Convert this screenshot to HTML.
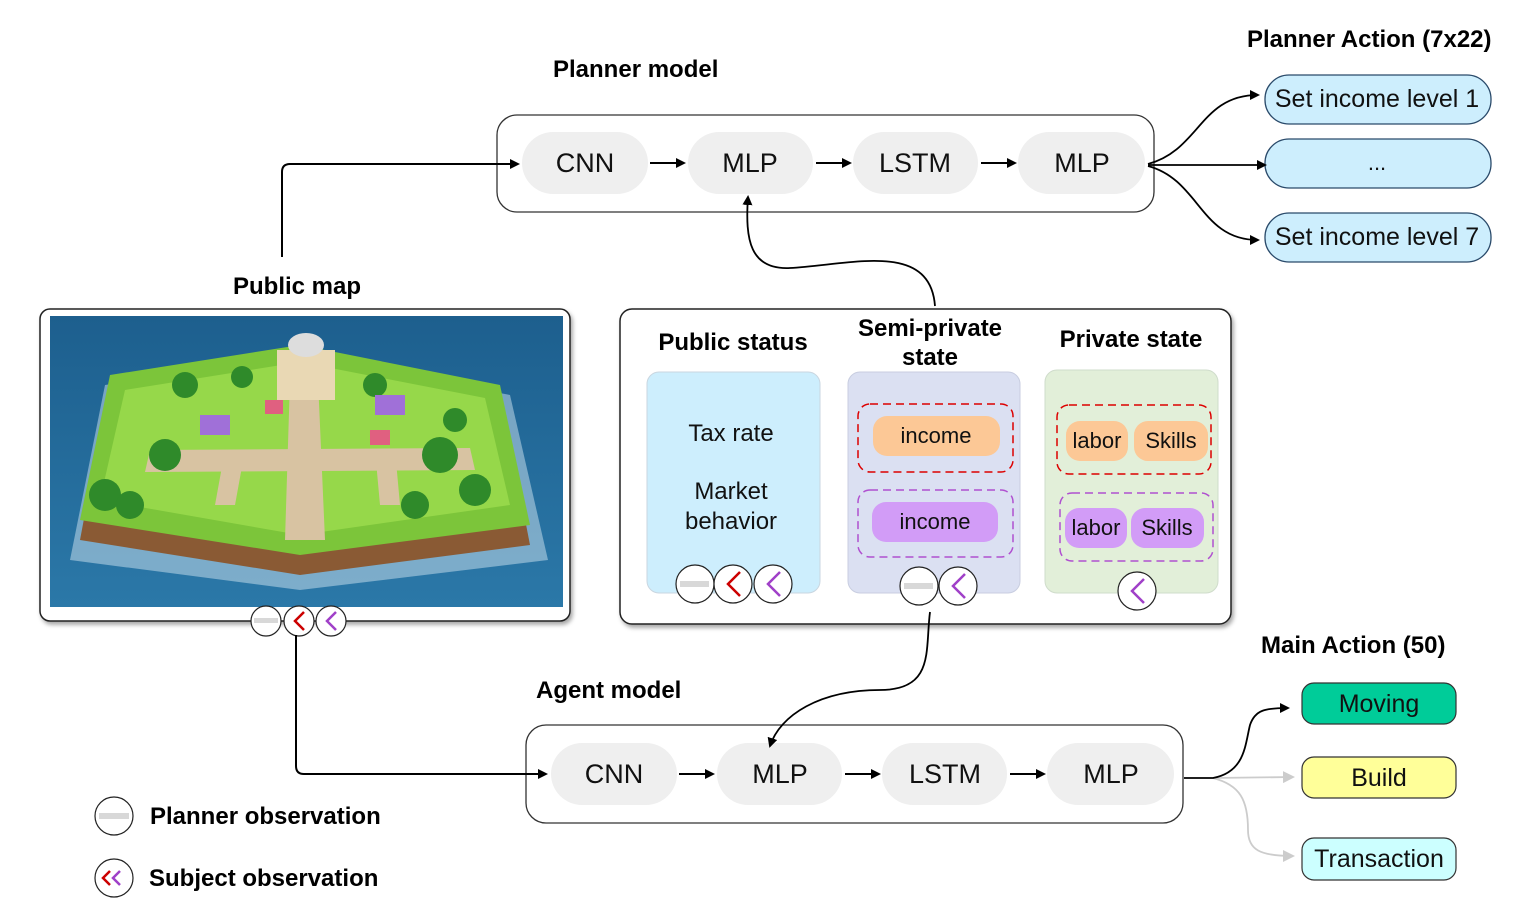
<!DOCTYPE html>
<html><head><meta charset="utf-8"><style>
html,body{margin:0;padding:0;background:#fff;}
svg{display:block;font-family:"Liberation Sans","DejaVu Sans",sans-serif;}
.t{font-weight:bold;font-size:24px;fill:#000;}
.p{font-size:27px;fill:#111;text-anchor:middle;}
.s{font-size:22px;fill:#111;text-anchor:middle;}
</style></head><body>
<svg width="1526" height="908" viewBox="0 0 1526 908" xmlns="http://www.w3.org/2000/svg">
<defs>
<marker id="ah" markerWidth="10" markerHeight="10" refX="8" refY="5" orient="auto" markerUnits="userSpaceOnUse"><path d="M0,0 L10,5 L0,10 z" fill="#000"/></marker>
<marker id="ag" markerWidth="12" markerHeight="12" refX="10" refY="6" orient="auto" markerUnits="userSpaceOnUse"><path d="M0,0 L12,6 L0,12 z" fill="#ccc"/></marker>
<linearGradient id="sea" x1="0" y1="0" x2="0" y2="1"><stop offset="0" stop-color="#1d5f8e"/><stop offset="1" stop-color="#2b78a8"/></linearGradient>
<filter id="sh" x="-5%" y="-5%" width="110%" height="115%"><feDropShadow dx="2" dy="3" stdDeviation="2" flood-color="#000" flood-opacity="0.35"/></filter>
</defs>

<!-- Planner model -->
<text class="t" x="553" y="77">Planner model</text>
<rect x="497" y="115" width="657" height="97" rx="20" fill="#fff" stroke="#333" stroke-width="1.3"/>
<rect x="522" y="132" width="126" height="62" rx="31" fill="#efefef"/>
<rect x="688" y="132" width="125" height="62" rx="31" fill="#efefef"/>
<rect x="853" y="132" width="125" height="62" rx="31" fill="#efefef"/>
<rect x="1018" y="132" width="127" height="62" rx="31" fill="#efefef"/>
<text class="p" x="585" y="172">CNN</text>
<text class="p" x="750" y="172">MLP</text>
<text class="p" x="915" y="172">LSTM</text>
<text class="p" x="1082" y="172">MLP</text>
<g stroke="#000" stroke-width="2" fill="none" marker-end="url(#ah)">
<line x1="650" y1="163" x2="684" y2="163"/>
<line x1="816" y1="163" x2="850" y2="163"/>
<line x1="981" y1="163" x2="1015" y2="163"/>
</g>
<path d="M282,257 L282,172 Q282,164 290,164 L518,164" stroke="#000" stroke-width="2" fill="none" marker-end="url(#ah)"/>

<!-- Planner Action -->
<text class="t" x="1247" y="47">Planner Action (7x22)</text>
<g fill="#cdeefd" stroke="#2a4a6a" stroke-width="1.3">
<rect x="1265" y="75" width="226" height="49" rx="24"/>
<rect x="1265" y="139" width="226" height="49" rx="24"/>
<rect x="1265" y="213" width="226" height="49" rx="24"/>
</g>
<text class="p" x="1377" y="107" style="font-size:25px">Set income level 1</text>
<text class="s" x="1377" y="170">...</text>
<text class="p" x="1377" y="245" style="font-size:25px">Set income level 7</text>
<g stroke="#000" stroke-width="1.8" fill="none" marker-end="url(#ah)">
<path d="M1148,164 C1200,150 1200,95 1258,95"/>
<path d="M1148,165 L1265,165"/>
<path d="M1148,166 C1200,180 1200,240 1258,240"/>
</g>

<!-- Public map -->
<text class="t" x="233" y="294">Public map</text>
<rect x="40" y="309" width="530" height="312" rx="10" fill="#fff" stroke="#222" stroke-width="1.5" filter="url(#sh)"/>
<rect x="50" y="316" width="513" height="291" fill="url(#sea)"/>
<path d="M70,560 L105,385 L300,355 L510,395 L548,560 L300,590 Z" fill="#cfe4ef" opacity="0.5"/>
<path d="M80,540 L110,380 L300,350 L500,390 L530,545 L300,575 Z" fill="#8a5a34"/>
<path d="M80,520 L110,375 L300,345 L500,385 L530,525 L300,555 Z" fill="#7cc53a"/>
<path d="M100,500 L125,390 L300,362 L485,398 L510,505 L300,535 Z" fill="#96d84a"/>
<path d="M290,380 L318,380 L325,540 L285,540 Z" fill="#d8c3a2"/>
<path d="M150,450 L470,448 L475,470 L145,472 Z" fill="#d8c3a2"/>
<path d="M225,450 L245,450 L235,505 L215,505 Z" fill="#d8c3a2"/>
<path d="M375,450 L395,450 L400,505 L380,505 Z" fill="#d8c3a2"/>
<rect x="277" y="350" width="58" height="50" fill="#e9d8b4"/>
<ellipse cx="306" cy="345" rx="18" ry="12" fill="#ddd"/>
<g fill="#2f8a2a">
<circle cx="105" cy="495" r="16"/><circle cx="130" cy="505" r="14"/><circle cx="165" cy="455" r="16"/><circle cx="185" cy="385" r="13"/><circle cx="242" cy="377" r="11"/><circle cx="440" cy="455" r="18"/><circle cx="475" cy="490" r="16"/><circle cx="415" cy="505" r="14"/><circle cx="375" cy="385" r="12"/><circle cx="455" cy="420" r="12"/>
</g>
<g fill="#a070d8"><rect x="200" y="415" width="30" height="20"/><rect x="375" y="395" width="30" height="20"/></g>
<g fill="#e06080"><rect x="265" y="400" width="18" height="14"/><rect x="370" y="430" width="20" height="15"/></g>

<!-- Middle panel -->
<rect x="620" y="309" width="611" height="315" rx="12" fill="#fff" stroke="#222" stroke-width="1.5" filter="url(#sh)"/>
<text class="t" x="733" y="350" text-anchor="middle">Public status</text>
<text class="t" x="930" y="336" text-anchor="middle">Semi-private</text>
<text class="t" x="930" y="365" text-anchor="middle">state</text>
<text class="t" x="1131" y="347" text-anchor="middle">Private state</text>
<rect x="647" y="372" width="173" height="221" rx="12" fill="#cdeefd" stroke="#c9d6e0"/>
<rect x="848" y="372" width="172" height="221" rx="12" fill="#dbe0f2" stroke="#c8cde0"/>
<rect x="1045" y="370" width="173" height="223" rx="12" fill="#e2efd9" stroke="#cfdccb"/>
<text class="s" x="731" y="441" style="font-size:24px">Tax rate</text>
<text class="s" x="731" y="499" style="font-size:24px">Market</text>
<text class="s" x="731" y="529" style="font-size:24px">behavior</text>

<rect x="858" y="404" width="155" height="68" rx="12" fill="none" stroke="#d00" stroke-width="1.5" stroke-dasharray="8,5"/>
<rect x="873" y="416" width="127" height="40" rx="14" fill="#fcc896"/>
<text class="s" x="936" y="443">income</text>
<rect x="858" y="490" width="155" height="67" rx="12" fill="none" stroke="#b050d0" stroke-width="1.5" stroke-dasharray="8,5"/>
<rect x="872" y="502" width="126" height="40" rx="14" fill="#d29cf7"/>
<text class="s" x="935" y="529">income</text>

<rect x="1057" y="405" width="154" height="69" rx="12" fill="none" stroke="#d00" stroke-width="1.5" stroke-dasharray="8,5"/>
<rect x="1066" y="421" width="62" height="40" rx="14" fill="#fcc896"/>
<rect x="1134" y="421" width="74" height="40" rx="14" fill="#fcc896"/>
<text class="s" x="1097" y="448">labor</text>
<text class="s" x="1171" y="448">Skills</text>
<rect x="1060" y="493" width="153" height="68" rx="12" fill="none" stroke="#b050d0" stroke-width="1.5" stroke-dasharray="8,5"/>
<rect x="1065" y="508" width="62" height="40" rx="14" fill="#d29cf7"/>
<rect x="1131" y="508" width="73" height="40" rx="14" fill="#d29cf7"/>
<text class="s" x="1096" y="535">labor</text>
<text class="s" x="1167" y="535">Skills</text>

<!-- observation circles -->
<g stroke="#222" stroke-width="1.2" fill="#fff">
<circle cx="695" cy="584" r="19"/><circle cx="733" cy="584" r="19"/><circle cx="773" cy="584" r="19"/>
<circle cx="919" cy="586" r="19"/><circle cx="958" cy="586" r="19"/>
<circle cx="1137" cy="591" r="19"/>
<circle cx="266" cy="621" r="15"/><circle cx="299" cy="621" r="15"/><circle cx="331" cy="621" r="15"/>
<circle cx="114" cy="816" r="19"/><circle cx="114" cy="878" r="19"/>
</g>
<g fill="#d8d8d8">
<rect x="680" y="581" width="29" height="6"/><rect x="904" y="583" width="29" height="6"/>
<rect x="254" y="618" width="24" height="5"/><rect x="99" y="813" width="30" height="6"/>
</g>
<g fill="none" stroke-width="2.5">
<path d="M740,572 L728,584 L740,596" stroke="#c00"/>
<path d="M780,572 L768,584 L780,596" stroke="#a040c8"/>
<path d="M965,574 L953,586 L965,598" stroke="#a040c8"/>
<path d="M1144,579 L1132,591 L1144,603" stroke="#a040c8"/>
<path d="M304,612 L295,621 L304,630" stroke="#c00"/>
<path d="M336,612 L327,621 L336,630" stroke="#a040c8"/>
<path d="M110,871 L103,878 L110,885" stroke="#c00"/>
<path d="M120,871 L113,878 L120,885" stroke="#a040c8"/>
</g>

<!-- semi-private to planner -->
<path d="M935,306 C930,240 850,265 790,268 C750,270 745,240 748,197" stroke="#000" stroke-width="1.8" fill="none" marker-end="url(#ah)"/>

<!-- Agent model -->
<text class="t" x="536" y="698">Agent model</text>
<rect x="526" y="725" width="657" height="98" rx="20" fill="#fff" stroke="#333" stroke-width="1.3"/>
<rect x="551" y="743" width="126" height="62" rx="31" fill="#efefef"/>
<rect x="717" y="743" width="125" height="62" rx="31" fill="#efefef"/>
<rect x="882" y="743" width="125" height="62" rx="31" fill="#efefef"/>
<rect x="1047" y="743" width="127" height="62" rx="31" fill="#efefef"/>
<text class="p" x="614" y="783">CNN</text>
<text class="p" x="780" y="783">MLP</text>
<text class="p" x="945" y="783">LSTM</text>
<text class="p" x="1111" y="783">MLP</text>
<g stroke="#000" stroke-width="2" fill="none" marker-end="url(#ah)">
<line x1="679" y1="774" x2="713" y2="774"/>
<line x1="845" y1="774" x2="879" y2="774"/>
<line x1="1010" y1="774" x2="1044" y2="774"/>
</g>
<!-- semi-private to agent -->
<path d="M930,612 C925,650 935,690 880,690 C820,690 780,715 770,746" stroke="#000" stroke-width="1.8" fill="none" marker-end="url(#ah)"/>
<!-- map to agent -->
<path d="M296,635 L296,766 Q296,774 304,774 L546,774" stroke="#000" stroke-width="2" fill="none" marker-end="url(#ah)"/>

<!-- Main Action -->
<text class="t" x="1261" y="653">Main Action (50)</text>
<rect x="1302" y="683" width="154" height="41" rx="12" fill="#00cc99" stroke="#333" stroke-width="1.2"/>
<rect x="1302" y="757" width="154" height="41" rx="12" fill="#ffff99" stroke="#333" stroke-width="1.2"/>
<rect x="1302" y="838" width="154" height="42" rx="12" fill="#ccffff" stroke="#333" stroke-width="1.2"/>
<text class="p" x="1379" y="712" style="font-size:25px">Moving</text>
<text class="p" x="1379" y="786" style="font-size:25px">Build</text>
<text class="p" x="1379" y="867" style="font-size:25px">Transaction</text>
<path d="M1213,778 L1293,777" stroke="#ccc" stroke-width="1.8" fill="none" marker-end="url(#ag)"/>
<path d="M1213,778 C1240,785 1248,800 1248,830 C1248,850 1260,856 1293,856" stroke="#ccc" stroke-width="1.8" fill="none" marker-end="url(#ag)"/>
<path d="M1184,778 L1213,778 C1245,772 1245,745 1250,725 C1255,710 1265,708 1288,708" stroke="#000" stroke-width="1.8" fill="none" marker-end="url(#ah)"/>

<!-- Legend -->
<text class="t" x="150" y="824">Planner observation</text>
<text class="t" x="149" y="886">Subject observation</text>
</svg>
</body></html>
